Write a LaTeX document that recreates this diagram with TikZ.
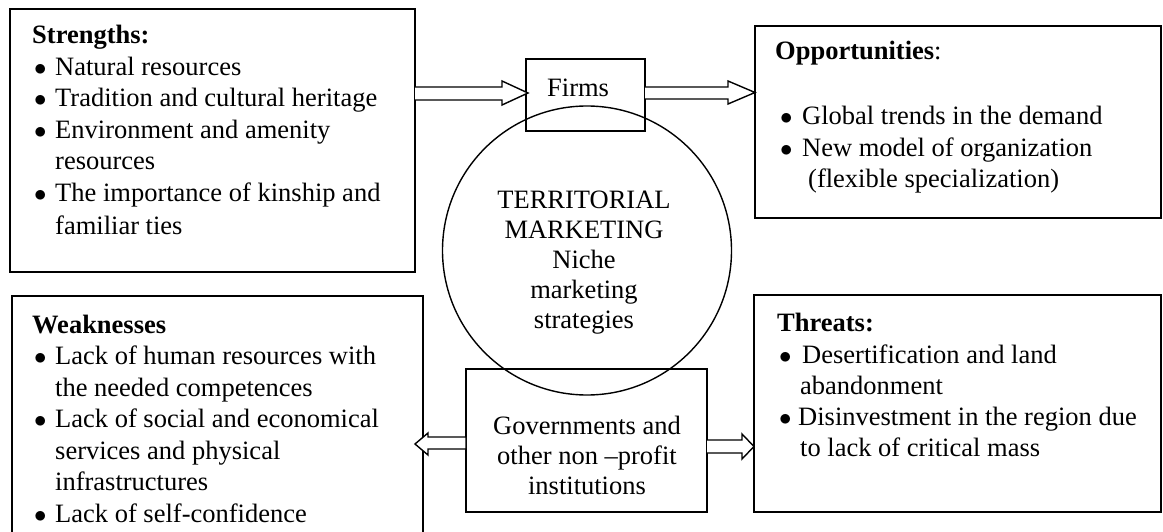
\documentclass[tikz,border=0pt]{standalone}
\usepackage{fontspec}
\setmainfont{Liberation Serif}
\newcommand{\bulletmark}{$\bullet$}
\begin{document}
\begin{tikzpicture}[x=1pt,y=-1pt,
  box/.style={draw, line width=1.4pt, inner sep=0pt, outer sep=0pt, anchor=north west},
  txt/.style={anchor=base west, inner sep=0pt, font=\fontsize{26.5}{31.5}\selectfont},
  ctxt/.style={anchor=base, inner sep=0pt, font=\fontsize{26.5}{31.5}\selectfont},
  blk/.style={draw, line width=1.4pt, line join=miter, fill=white}]
\useasboundingbox (0,0) rectangle (1163,532);
\clip (0,0) rectangle (1163,532);

% boxes
\node[box, minimum width=405pt, minimum height=263pt] (S) at (10,9) {};
\node[box, minimum width=406pt, minimum height=192pt] (O) at (755,26) {};
\node[box, minimum width=411pt, minimum height=260pt] (W) at (12,296) {};
\node[box, minimum width=407pt, minimum height=217pt] (T) at (754,295) {};
\node[box, minimum width=119pt, minimum height=72pt] (F) at (526,59) {};
\node[box, minimum width=241pt, minimum height=143pt] (G) at (466,369) {};
\node[draw, circle, line width=1.4pt, minimum size=289pt, inner sep=0pt] (C) at (587,250.5) {};

% block arrows
\draw[blk] (S.east |- 0,87) -- (502,87) -- (502,81) -- (528,93) -- (502,105) -- (502,100) -- (S.east |- 0,100);
\draw[blk] (F.east |- 0,87) -- (728,87) -- (728,81) -- (O.west |- 0,92.5) -- (728,104) -- (728,99) -- (F.east |- 0,99);
\draw[blk] (G.west |- 0,437) -- (428,437) -- (428,433) -- (415,444) -- (428,455) -- (428,449) -- (G.west |- 0,449) -- cycle;
\draw[blk] (G.east |- 0,440) -- (742,440) -- (742,434) -- (T.west |- 0,446.5) -- (742,459) -- (742,453) -- (G.east |- 0,453);

% Strengths
\node[txt] (s0) at (32,44) {\textbf{Strengths:}};
\node[txt] (s1b) at (34,76) {\bulletmark};   \node[txt] (s1) at (55,76) {Natural resources};
\node[txt] (s2b) at (34,107) {\bulletmark};  \node[txt] (s2) at (55,107) {Tradition and cultural heritage};
\node[txt] (s3b) at (34,139) {\bulletmark};  \node[txt] (s3) at (55,139) {Environment and amenity};
\node[txt] (s4) at (55,170) {resources};
\node[txt] (s5b) at (34,202) {\bulletmark};  \node[txt] (s5) at (55,202) {The importance of kinship and};
\node[txt] (s6) at (55,234) {familiar ties};

% Opportunities
\node[txt] (o0) at (775,60) {\textbf{Opportunities}:};
\node[txt] (o1b) at (780,125) {\bulletmark}; \node[txt] (o1) at (802,125) {Global trends in the demand};
\node[txt] (o2b) at (780,157) {\bulletmark}; \node[txt] (o2) at (802,157) {New model of organization};
\node[txt] (o3) at (808,188) {(flexible specialization)};

% Weaknesses
\node[txt] (w0) at (32,333) {\textbf{Weaknesses}};
\node[txt] (w1b) at (34,364.5) {\bulletmark}; \node[txt] (w1) at (55,364.5) {Lack of human resources with};
\node[txt] (w2) at (55,396) {the needed competences};
\node[txt] (w3b) at (34,427.5) {\bulletmark}; \node[txt] (w3) at (55,427.5) {Lack of social and economical};
\node[txt] (w4) at (55,459) {services and physical};
\node[txt] (w5) at (55,490.5) {infrastructures};
\node[txt] (w6b) at (34,522) {\bulletmark}; \node[txt] (w6) at (55,522) {Lack of self-confidence};

% Threats
\node[txt] (t0) at (777,331) {\textbf{Threats:}};
\node[txt] (t1b) at (779,363) {\bulletmark}; \node[txt] (t1) at (802,363) {Desertification and land};
\node[txt] (t2) at (800,394) {abandonment};
\node[txt] (t3b) at (779,425) {\bulletmark}; \node[txt] (t3) at (798,425) {Disinvestment in the region due};
\node[txt] (t4) at (800,456) {to lack of critical mass};

% Firms
\node[txt] (f0) at (547,97) {Firms};

% circle text
\node[ctxt] (c1) at (584,208) {TERRITORIAL};
\node[ctxt] (c2) at (584,239) {MARKETING};
\node[ctxt] (c3) at (584,269) {Niche};
\node[ctxt] (c4) at (584,298) {marketing};
\node[ctxt] (c5) at (584,328) {strategies};

% Governments
\node[ctxt] (g1) at (587,434) {Governments and};
\node[ctxt] (g2) at (587,464) {other non –profit};
\node[ctxt] (g3) at (587,494) {institutions};
\end{tikzpicture}
\end{document}
